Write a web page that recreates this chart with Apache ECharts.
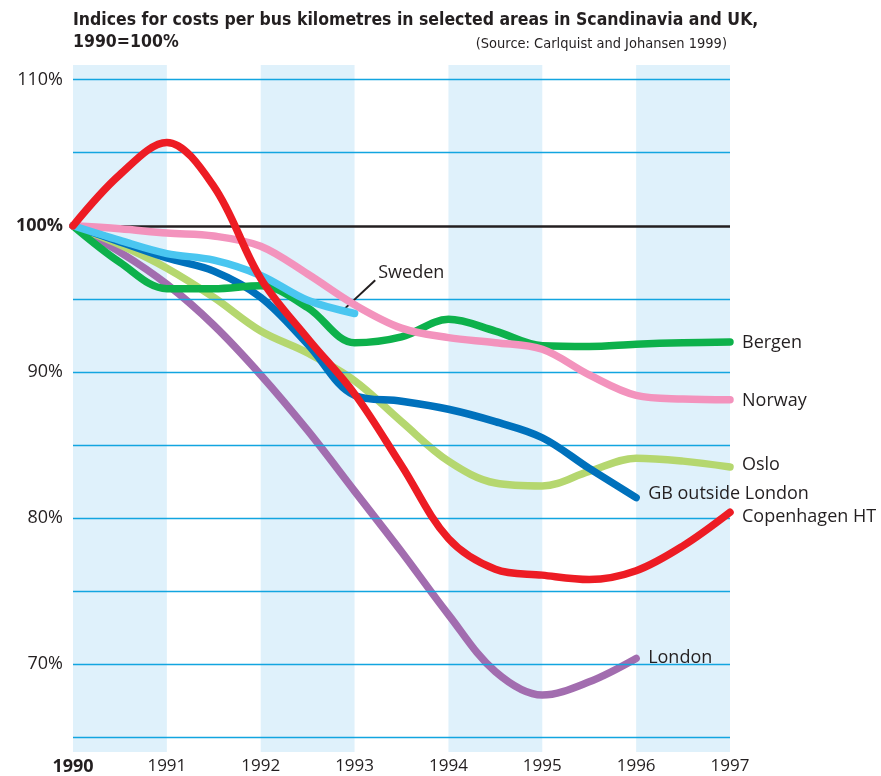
<!DOCTYPE html>
<html>
<head>
<meta charset="utf-8">
<script src="https://cdn.jsdelivr.net/npm/echarts@6/dist/echarts.min.js"></script>
<style>
  html, body { margin: 0; padding: 0; background: #fff; }
  #chart { width: 881px; height: 776px; }
</style>
</head>
<body>
<div id="chart"></div>
<script>
// half-year steps
var years = [1990, 1990.5, 1991, 1991.5, 1992, 1992.5, 1993, 1993.5, 1994, 1994.5, 1995, 1995.5, 1996, 1996.5, 1997]

var copenhagen = [100, 103.5, 105.7, 102.7, 96.4, 92.3, 88.5, 83.6, 78.6, 76.5, 76.1, 75.8, 76.4, 78.1, 80.4]
var bergen     = [100, 97.5, 95.7, 95.7, 95.9, 94.4, 92.0, 92.4, 93.6, 92.8, 91.8, 91.75, 91.9, 92.0, 92.05]
var norway     = [100, 99.8, 99.5, 99.3, 98.6, 96.7, 94.6, 93.0, 92.35, 92.0, 91.55, 89.8, 88.4, 88.15, 88.1]
var sweden     = [100, 99.0, 98.1, 97.65, 96.6, 94.9, 94.0, null, null, null, null, null, null, null, null]
var gbOutside  = [100, 98.9, 97.8, 96.9, 95.1, 91.9, 88.4, 88.0, 87.45, 86.6, 85.5, 83.4, 81.4, null, null]
var oslo       = [100, 98.7, 97.1, 95.1, 92.8, 91.3, 89.4, 86.6, 83.9, 82.4, 82.2, 83.2, 84.1, 83.9, 83.5]
var london     = [100, 98.2, 96.0, 93.2, 89.8, 86.0, 81.85, 77.7, 73.4, 69.5, 67.9, 68.8, 70.4, null, null]

var xTicks = [1990, 1991, 1992, 1993, 1994, 1995, 1996, 1997]
var yLabelled = [70, 80, 90, 100, 110]
var gridValues = [65, 70, 75, 80, 85, 90, 95, 105, 110]
var bandYears = [[1990, 1991], [1992, 1993], [1994, 1995], [1996, 1997]]

var txt = '#231f20'
var font = 'Open Sans'
var narrow = "'DejaVu Sans Condensed', 'Roboto Condensed', Roboto"

function pairs(vals) {
  var out = []
  for (var i = 0; i < years.length; i++) {
    if (vals[i] != null) out.push([years[i], vals[i]])
  }
  return out
}

function line(name, vals, color, z, labelOffset) {
  return {
    name: name,
    type: 'line',
    data: pairs(vals),
    smooth: 0.35,
    showSymbol: false,
    symbol: 'none',
    z: z,
    lineStyle: { color: color, width: 7.5, cap: 'round', join: 'round' },
    endLabel: labelOffset ? {
      show: true,
      formatter: name,
      distance: 12,
      offset: labelOffset,
      color: txt,
      fontFamily: font,
      fontSize: 18
    } : { show: false },
    emphasis: { disabled: true }
  }
}

var chart = echarts.init(document.getElementById('chart'))

chart.setOption({
  animation: false,
  title: [{
    text: 'Indices for costs per bus kilometres in selected areas in Scandinavia and UK,\n1990=100%',
    left: 73,
    top: 9,
    padding: 0,
    textStyle: {
      fontFamily: narrow,
      fontWeight: 'bold',
      fontSize: 17.5,
      lineHeight: 22,
      color: txt
    }
  }, {
    text: '(Source: Carlquist and Johansen 1999)',
    right: 154,
    top: 37,
    padding: 0,
    textStyle: {
      fontFamily: narrow,
      fontWeight: 'normal',
      fontSize: 14.5,
      color: txt
    }
  }],
  grid: { left: 73, right: 151, top: 65, bottom: 24, containLabel: false },
  xAxis: {
    type: 'value',
    min: 1990,
    max: 1997,
    interval: 1,
    axisLine: { show: false },
    axisTick: { show: false },
    splitLine: { show: false },
    axisLabel: {
      margin: 6,
      fontFamily: font,
      fontSize: 17,
      color: txt,
      formatter: function (v) {
        if (xTicks.indexOf(v) < 0) return ''
        return v === 1990 ? '{b|' + v + '}' : String(v)
      },
      rich: { b: { fontWeight: 'bold', fontSize: 18, fontFamily: font, color: txt } }
    }
  },
  yAxis: {
    type: 'value',
    min: 64,
    max: 111,
    interval: 1,
    axisLine: { show: false },
    axisTick: { show: false },
    splitLine: { show: false },
    axisLabel: {
      margin: 10,
      fontFamily: font,
      fontSize: 18,
      color: txt,
      formatter: function (v) {
        if (yLabelled.indexOf(v) < 0) return ''
        return v === 100 ? '{b|' + v + '%}' : v + '%'
      },
      rich: { b: { fontWeight: 'bold', fontSize: 18, fontFamily: font, color: txt } }
    }
  },
  series: [
    {
      type: 'line',
      data: [],
      z: 1,
      markArea: {
        silent: true,
        itemStyle: { color: '#dff1fb' },
        data: bandYears.map(function (b) { return [{ xAxis: b[0] }, { xAxis: b[1] }] })
      },
      markLine: {
        silent: true,
        symbol: 'none',
        label: { show: false },
        lineStyle: { color: '#12a5e0', width: 1.3, type: 'solid' },
        data: gridValues.map(function (v) { return { yAxis: v } }).concat([
          { yAxis: 100, lineStyle: { color: txt, width: 2.5 } }
        ])
      }
    },
    line('London', london, '#a26daf', 3, [0, -1]),
    line('Oslo', oslo, '#b5d76f', 4, [0, -2]),
    line('GB outside London', gbOutside, '#0071bc', 5, [0, -4]),
    line('Bergen', bergen, '#0db14b', 6, [0, 1]),
    line('Norway', norway, '#f393bd', 7, [0, 1]),
    (function () {
      var s = line('Sweden', sweden, '#4ac6f0', 8, null)
      s.markLine = {
        silent: true,
        symbol: 'none',
        label: { show: false },
        lineStyle: { color: txt, width: 2, type: 'solid' },
        data: [[{ coord: [1992.87, 94.18] }, { coord: [1993.22, 96.28] }]]
      }
      s.markPoint = {
        silent: true,
        symbol: 'circle',
        symbolSize: 0,
        label: {
          show: true,
          position: 'right',
          distance: 3,
          formatter: 'Sweden',
          color: txt,
          fontFamily: font,
          fontSize: 18
        },
        data: [{ coord: [1993.22, 96.8] }]
      }
      return s
    })(),
    line('Copenhagen HT', copenhagen, '#ed1c24', 9, [0, 5])
  ]
})
</script>
</body>
</html>
